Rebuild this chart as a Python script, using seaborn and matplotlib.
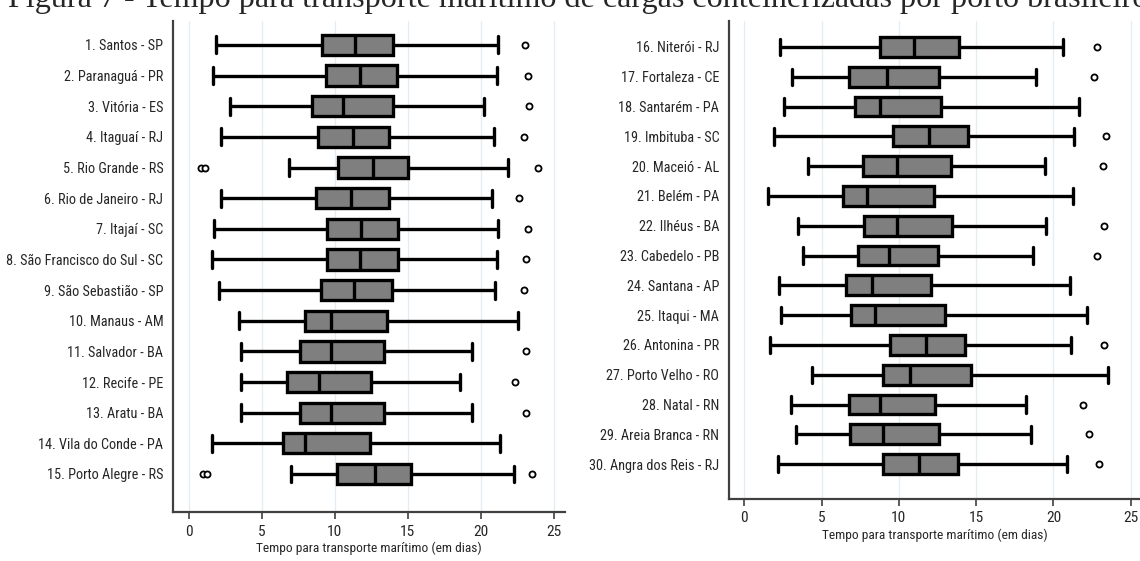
import numpy as np
import pandas as pd
import matplotlib
matplotlib.use("Agg")
import matplotlib.pyplot as plt
from matplotlib import font_manager as fm
import seaborn as sns

# ---------------- data ----------------
ports_left = ["1. Santos - SP", "2. Paranaguá - PR", "3. Vitória - ES", "4. Itaguaí - RJ",
              "5. Rio Grande - RS", "6. Rio de Janeiro - RJ", "7. Itajaí - SC",
              "8. São Francisco do Sul - SC", "9. São Sebastião - SP", "10. Manaus - AM",
              "11. Salvador - BA", "12. Recife - PE", "13. Aratu - BA",
              "14. Vila do Conde - PA", "15. Porto Alegre - RS"]
low_left = [1.85, 1.65, 2.8, 2.25, 6.85, 2.2, 1.75, 1.6, 2.05, 3.45, 3.6, 3.6, 3.6, 1.6, 7.0]
q1_left = [9.15, 9.4, 8.45, 8.85, 10.2, 8.75, 9.5, 9.5, 9.05, 8.0, 7.65, 6.75, 7.65, 6.45, 10.15]
med_left = [11.4, 11.75, 10.55, 11.25, 12.6, 11.1, 11.8, 11.75, 11.3, 9.75, 9.75, 8.95, 9.75, 7.95, 12.75]
q3_left = [14.0, 14.3, 14.0, 13.75, 15.0, 13.75, 14.35, 14.35, 13.9, 13.6, 13.35, 12.5, 13.35, 12.4, 15.25]
high_left = [21.2, 21.1, 20.25, 20.9, 21.9, 20.75, 21.2, 21.1, 21.0, 22.55, 19.4, 18.55, 19.4, 21.35, 22.25]
out_port_left = ["1. Santos - SP", "2. Paranaguá - PR", "3. Vitória - ES", "4. Itaguaí - RJ",
                 "5. Rio Grande - RS", "5. Rio Grande - RS", "5. Rio Grande - RS",
                 "6. Rio de Janeiro - RJ", "7. Itajaí - SC", "8. São Francisco do Sul - SC",
                 "9. São Sebastião - SP", "11. Salvador - BA", "12. Recife - PE", "13. Aratu - BA",
                 "15. Porto Alegre - RS", "15. Porto Alegre - RS", "15. Porto Alegre - RS"]
out_val_left = [23.05, 23.25, 23.3, 22.95, 0.85, 1.15, 23.9, 22.6, 23.25, 23.1, 22.95,
                23.1, 22.35, 23.1, 0.95, 1.25, 23.5]

ports_right = ["16. Niterói - RJ", "17. Fortaleza - CE", "18. Santarém - PA", "19. Imbituba - SC",
               "20. Maceió - AL", "21. Belém - PA", "22. Ilhéus - BA", "23. Cabedelo - PB",
               "24. Santana - AP", "25. Itaqui - MA", "26. Antonina - PR", "27. Porto Velho - RO",
               "28. Natal - RN", "29. Areia Branca - RN", "30. Angra dos Reis - RJ"]
low_right = [2.3, 3.1, 2.55, 1.9, 4.1, 1.55, 3.5, 3.8, 2.25, 2.4, 1.65, 4.4, 3.05, 3.35, 2.15]
q1_right = [8.8, 6.8, 7.15, 9.6, 7.7, 6.4, 7.75, 7.35, 6.55, 6.9, 9.45, 9.0, 6.75, 6.85, 8.95]
med_right = [10.95, 9.2, 8.8, 11.95, 9.9, 7.95, 9.9, 9.35, 8.25, 8.45, 11.75, 10.7, 8.8, 9.0, 11.3]
q3_right = [13.9, 12.6, 12.75, 14.45, 13.4, 12.3, 13.45, 12.55, 12.1, 13.0, 14.3, 14.65, 12.35, 12.6, 13.8]
high_right = [20.6, 18.85, 21.65, 21.35, 19.45, 21.25, 19.5, 18.65, 21.05, 22.15, 21.15, 23.55, 18.25, 18.55, 20.9]
out_port_right = ["16. Niterói - RJ", "17. Fortaleza - CE", "19. Imbituba - SC", "20. Maceió - AL",
                  "22. Ilhéus - BA", "23. Cabedelo - PB", "26. Antonina - PR", "28. Natal - RN",
                  "29. Areia Branca - RN", "30. Angra dos Reis - RJ"]
out_val_right = [22.8, 22.6, 23.4, 23.2, 23.25, 22.8, 23.25, 21.9, 22.3, 22.95]

xticks = [0, 5, 10, 15, 20, 25]
title = "Figura 7 - Tempo para transporte marítimo de cargas conteinerizadas por porto brasileiro"
xlabel = "Tempo para transporte marítimo (em dias)"

# ---------------- fonts ----------------
sns.set_style("white")
entries = fm.fontManager.ttflist
names = {f.name for f in entries}
narrow_family, narrow_stretch = None, "normal"
for cand in ["Liberation Sans Narrow", "Arial Narrow", "Roboto Condensed",
             "DejaVu Sans Condensed", "Noto Sans Condensed", "Open Sans Condensed"]:
    if cand in names:
        narrow_family = cand
        break
if narrow_family is None:
    for fam in ["Liberation Sans", "Roboto", "Noto Sans", "Open Sans", "DejaVu Sans"]:
        hits = [f for f in entries if f.name == fam and
                str(f.stretch) in ("condensed", "semi-condensed", "extra-condensed")]
        if hits:
            narrow_family, narrow_stretch = fam, hits[0].stretch
            break
if narrow_family is None:
    narrow_family = "Liberation Sans"
plt.rcParams["font.family"] = [narrow_family, "DejaVu Sans"]
plt.rcParams["font.stretch"] = narrow_stretch

W, H = 1140, 561
fig = plt.figure(figsize=(W / 100, H / 100), dpi=100)
renderer = fig.canvas.get_renderer()


def fit_size(text, target_px, size0, **kw):
    t = fig.text(0, 0, text, fontsize=size0, **kw)
    w = t.get_window_extent(renderer=renderer).width
    t.remove()
    return size0 * target_px / w


ylab_size = min(12.0, fit_size("8. São Francisco do Sul - SC", 157, 10))
xlab_size = min(12.5, fit_size(xlabel, 224, 10))
xtick_size = min(13.0, fit_size("10", 15, 10))


def summary_frame(ports, low, q1, med, q3, high):
    rows = []
    for p, a, b, c, d, e in zip(ports, low, q1, med, q3, high):
        for v in (a, b, c, d, e):
            rows.append((p, v))
    return pd.DataFrame(rows, columns=["porto", "dias"])


def panel(rect, ports, low, q1, med, q3, high, out_p, out_v, xlim, ylim):
    ax = fig.add_axes(rect)
    df = summary_frame(ports, low, q1, med, q3, high)
    lw = 2.4
    sns.boxplot(data=df, x="dias", y="porto", order=ports, ax=ax, orient="h",
                whis=np.inf, width=0.66, color="#7f7f7f", saturation=1,
                linecolor="black", linewidth=lw, capwidths=0.55,
                boxprops=dict(edgecolor="black", linewidth=lw),
                medianprops=dict(color="black", linewidth=lw),
                whiskerprops=dict(color="black", linewidth=lw),
                capprops=dict(color="black", linewidth=lw),
                showfliers=False, zorder=3)
    od = pd.DataFrame({"porto": out_p, "dias": out_v})
    sns.stripplot(data=od, x="dias", y="porto", order=ports, ax=ax, orient="h",
                  jitter=False, size=4.4, color="white", edgecolor="black",
                  linewidth=1.3, zorder=4)
    ax.set_xlim(*xlim)
    ax.set_ylim(*ylim)
    ax.set_xticks(xticks)
    ax.set_xticklabels([str(t) for t in xticks], fontsize=xtick_size)
    ax.set_yticks(range(len(ports)))
    ax.set_yticklabels(ports, fontsize=ylab_size)
    ax.set_xlabel(xlabel, fontsize=xlab_size, labelpad=2)
    ax.set_ylabel("")
    ax.grid(axis="x", color="#e4edf1", linewidth=1.0, zorder=0)
    ax.grid(axis="y", visible=False)
    ax.set_axisbelow(True)
    for s in ("top", "right"):
        ax.spines[s].set_visible(False)
    for s in ("left", "bottom"):
        ax.spines[s].set_color("#404040")
        ax.spines[s].set_linewidth(1.6)
    ax.tick_params(axis="x", length=5, width=1.2, color="#404040", pad=4, bottom=True)
    ax.tick_params(axis="y", length=0, pad=7)
    return ax


panel([173 / W, (H - 512) / H, (565 - 173) / W, (512 - 21) / H],
      ports_left, low_left, q1_left, med_left, q3_left, high_left,
      out_port_left, out_val_left, (-1.07, 25.77), (15.24, -0.78))
panel([729 / W, (H - 499) / H, (W - 729) / W, (499 - 21) / H],
      ports_right, low_right, q1_right, med_right, q3_right, high_right,
      out_port_right, out_val_right, (-0.99, 25.6), (15.17, -0.87))

serif = ["Liberation Serif", "DejaVu Serif"]
title_size = fit_size(title, 1142, 20, family=serif)
fig.text(8 / W, 1 - 7 / H, title, fontsize=title_size, va="baseline", ha="left",
         family=serif, stretch="normal")

fig.savefig("out.png", dpi=100)
